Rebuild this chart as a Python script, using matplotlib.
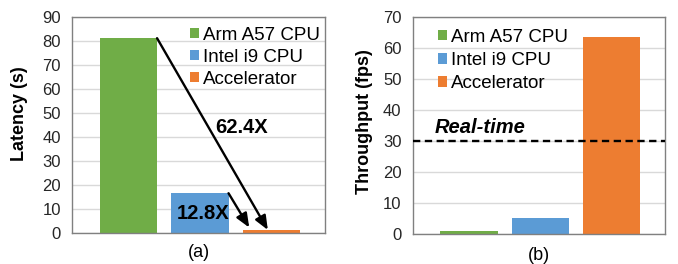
import numpy as np
import matplotlib
matplotlib.use("Agg")
import matplotlib.pyplot as plt

plt.rcParams['font.family'] = ['Liberation Sans', 'DejaVu Sans']

# Data
platforms = ["Arm A57 CPU", "Intel i9 CPU", "Accelerator"]
colors = ["#70ad47", "#5b9bd5", "#ed7d31"]
latency = [81.3, 16.7, 1.3]       # seconds
throughput = [1.0, 5.2, 63.7]     # fps
realtime_fps = 30
speedup_labels = ["62.4X", "12.8X"]

fig = plt.figure(figsize=(6.78, 2.64), dpi=100)
ax1 = fig.add_axes([72 / 678, 1 - 233.3 / 264, 253 / 678, 216 / 264])
ax2 = fig.add_axes([412.7 / 678, 1 - 234 / 264, 252.3 / 678, 216.7 / 264])

x = np.arange(len(platforms))


def style_axis(ax, ymax):
    ax.set_xlim(-0.79, 2.75)
    ax.set_ylim(0, ymax)
    ax.set_xticks([])
    ax.set_yticks(np.arange(0, ymax + 1, 10))
    ax.tick_params(axis='y', length=0, pad=8, labelsize=12, colors='#262626')
    ax.yaxis.grid(True, color='#d9d9d9', lw=1)
    ax.set_axisbelow(True)
    for s in ax.spines.values():
        s.set_color('#808080')
        s.set_linewidth(1)


leg_kw = dict(loc='upper left', frameon=False, fontsize=13.5, handlelength=0.5,
              handleheight=0.5, handletextpad=0.2, borderaxespad=0, borderpad=0)

# (a) latency
for i in range(len(platforms)):
    ax1.bar(x[i], latency[i], width=0.8, color=colors[i], label=platforms[i], zorder=2)
style_axis(ax1, 90)
ax1.set_ylabel("Latency (s)", fontsize=13, fontweight='bold')
ax1.yaxis.set_label_coords(-0.174, 0.552)
ax1.legend(bbox_to_anchor=(0.466, 0.957), labelspacing=0.27, **leg_kw)

arrow = dict(arrowstyle='-|>,head_length=0.6,head_width=0.25', color='black', lw=1.7,
             shrinkA=0, shrinkB=0, mutation_scale=14)
ax1.annotate("", xy=(1.95, 1.4), xytext=(x[0] + 0.4, latency[0]), arrowprops=arrow, zorder=5)
ax1.annotate("", xy=(1.69, 2.4), xytext=(x[1] + 0.4, latency[1]), arrowprops=arrow, zorder=5)
ax1.text(1.58, 44, speedup_labels[0], fontsize=14.5, fontweight='bold', ha='center', va='center', zorder=6)
ax1.text(1.05, 8.3, speedup_labels[1], fontsize=14.5, fontweight='bold', ha='center', va='center', zorder=6)
ax1.text(0.5, -0.091, "(a)", transform=ax1.transAxes, fontsize=13, ha='center', va='center')

# (b) throughput
for i in range(len(platforms)):
    ax2.bar(x[i], throughput[i], width=0.8, color=colors[i], label=platforms[i], zorder=2)
style_axis(ax2, 70)
ax2.axhline(realtime_fps, color='black', lw=1.7, dashes=(3.1, 1.9), zorder=4)
ax2.text(-0.48, realtime_fps + 4.4, "Real-time", fontsize=14.5, fontweight='bold',
         fontstyle='italic', ha='left', va='center')
ax2.set_ylabel("Throughput (fps)", fontsize=13, fontweight='bold')
ax2.yaxis.set_label_coords(-0.157, 0.517)
ax2.legend(bbox_to_anchor=(0.10, 0.947), labelspacing=0.33, **leg_kw)
ax2.text(0.5, -0.097, "(b)", transform=ax2.transAxes, fontsize=13, ha='center', va='center')

fig.savefig("out.png", dpi=100)
